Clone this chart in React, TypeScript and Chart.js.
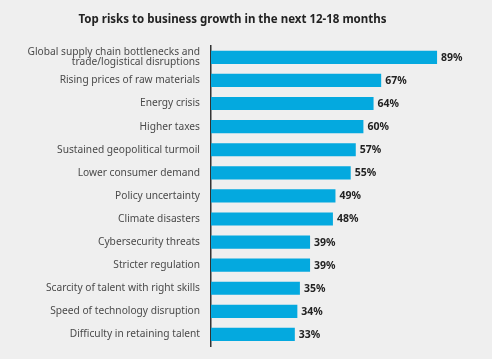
import React, { useEffect, useRef } from "react";
import { Chart, registerables } from "chart.js";

Chart.register(...registerables);

const TITLE = "Top risks to business growth in the next 12-18 months";
const CATEGORIES: (string | string[])[] = [
  ["Global supply chain bottlenecks and", "trade/logistical disruptions"],
  "Rising prices of raw materials",
  "Energy crisis",
  "Higher taxes",
  "Sustained geopolitical turmoil",
  "Lower consumer demand",
  "Policy uncertainty",
  "Climate disasters",
  "Cybersecurity threats",
  "Stricter regulation",
  "Scarcity of talent with right skills",
  "Speed of technology disruption",
  "Difficulty in retaining talent",
];
const VALUES = [89, 67, 64, 60, 57, 55, 49, 48, 39, 39, 35, 34, 33];

const FONT = "'Noto Sans', sans-serif";

const valueLabels = {
  id: "valueLabels",
  afterDatasetsDraw(chart: any) {
    const ctx = chart.ctx;
    const meta = chart.getDatasetMeta(0);
    ctx.save();
    ctx.font = `bold 10.5px ${FONT}`;
    ctx.fillStyle = "#222";
    ctx.textAlign = "left";
    ctx.textBaseline = "middle";
    meta.data.forEach((bar: any, i: number) => {
      ctx.fillText(`${VALUES[i]}%`, bar.x + 4, bar.y + 0.5);
    });
    ctx.restore();
  },
};

const bg = {
  id: "bg",
  beforeDraw(chart: any) {
    const ctx = chart.ctx;
    ctx.save();
    ctx.fillStyle = "#efefef";
    ctx.fillRect(0, 0, chart.width, chart.height);
    ctx.restore();
  },
};

export default function App() {
  const ref = useRef<HTMLCanvasElement>(null);
  useEffect(() => {
    if (!ref.current) return;
    const chart = new Chart(ref.current, {
      type: "bar",
      data: {
        labels: CATEGORIES,
        datasets: [
          {
            data: VALUES,
            backgroundColor: "#04a9df",
            barPercentage: 0.57,
            categoryPercentage: 1,
          },
        ],
      },
      options: {
        indexAxis: "y",
        animation: false,
        responsive: false,
        layout: { padding: { left: 0, right: 27, top: 0, bottom: 13 } },
        plugins: {
          legend: { display: false },
          tooltip: { enabled: false },
          title: {
            display: true,
            text: TITLE,
            color: "#222",
            font: { family: FONT, size: 11.5, weight: "bold" },
            padding: { top: 13, bottom: 19 },
          },
        },
        scales: {
          x: { display: false, min: 0, max: 100 },
          y: {
            afterFit: (scale: any) => {
              scale.width = 211;
              scale.paddingTop = 0;
              scale.paddingBottom = 0;
            },
            grid: { display: false, drawTicks: false },
            border: { display: true, color: "#333", width: 1.5 },
            ticks: {
              autoSkip: false,
              color: "#4a4a4a",
              padding: 11,
              font: { family: FONT, size: 10.2, lineHeight: 1.0 },
            },
          },
        },
      },
      plugins: [bg, valueLabels],
    });
    return () => chart.destroy();
  }, []);
  return (
    <div style={{ position: "fixed", left: 0, top: 0, width: 492, height: 359, background: "#efefef" }}>
      <canvas ref={ref} width={492} height={359} style={{ width: 492, height: 359, display: "block" }} />
    </div>
  );
}
